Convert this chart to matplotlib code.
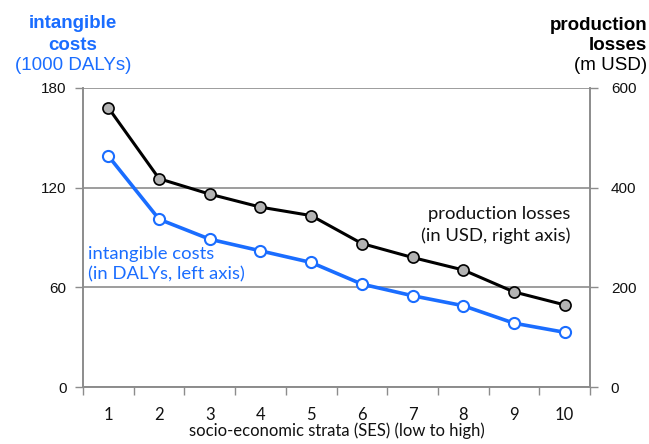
import numpy as np
import matplotlib.pyplot as plt

strata = [1, 2, 3, 4, 5, 6, 7, 8, 9, 10]
intangible_dalys = [139, 101, 89, 82, 75, 62, 55, 49, 38.5, 33]
production_musd = [560, 418, 387, 361, 344, 288, 260, 235, 191, 165]

blue = "#1a6dff"
grid_gray = "#8c8c8c"
tick_font = "Liberation Sans"
note_font = "Lato"

fig = plt.figure(figsize=(6.49, 4.44), dpi=100)
ax = fig.add_axes([0.128, 0.128, 0.781, 0.674])
ax2 = ax.twinx()

ax.set_xlim(0.5, 10.5)
ax.set_ylim(0, 180)
ax2.set_ylim(0, 600)
ax.set_yticks([0, 60, 120, 180])
ax2.set_yticks([0, 200, 400, 600])
ax.set_xticks(strata)
ax.set_xticks(np.arange(0.5, 11, 1), minor=True)
ax.tick_params(axis="x", which="major", length=0, pad=14)
ax.tick_params(axis="x", which="minor", length=6, width=1, color=grid_gray)
ax.tick_params(axis="y", length=6, width=1, color=grid_gray, pad=6)
ax2.tick_params(axis="y", length=6, width=1, color=grid_gray, pad=9)

for a in (ax, ax2):
    for lbl in a.get_yticklabels():
        lbl.set_fontfamily(tick_font)
        lbl.set_fontsize(11)
        lbl.set_color("#111111")
    a.spines["top"].set_visible(False)
    for s in ("left", "right", "bottom"):
        a.spines[s].set_color(grid_gray)
        a.spines[s].set_linewidth(1.2)
for lbl in ax.get_xticklabels():
    lbl.set_fontfamily(note_font)
    lbl.set_fontsize(12)
    lbl.set_color("#111111")

ax.grid(axis="y", color=grid_gray, linewidth=1.2)
ax.set_axisbelow(True)

# production losses (right axis)
ax2.plot(strata, production_musd, color="black", linewidth=2.2, marker="o",
         markersize=8, markerfacecolor="#b3b3b3", markeredgecolor="black",
         markeredgewidth=1.2, zorder=3)
# intangible costs (left axis), drawn on ax2 scale so it sits above
ax2.plot(strata, np.array(intangible_dalys) * 600 / 180, color=blue, linewidth=2.6,
         marker="o", markersize=8, markerfacecolor="white", markeredgecolor=blue,
         markeredgewidth=1.5, zorder=4)

ax.set_xlabel("socio-economic strata (SES) (low to high)", fontfamily=note_font,
              fontsize=12, color="#111111", labelpad=0)

ax.text(0.6, 74, "intangible costs\n(in DALYs, left axis)", color=blue,
        fontfamily=note_font, fontsize=13.3, ha="left", va="center", linespacing=1.35)
ax.text(10.12, 97.5, "production losses\n(in USD, right axis)", color="#111111",
        fontfamily=note_font, fontsize=13.3, ha="right", va="center", linespacing=1.35,
        multialignment="right")

# axis titles above the plot
fig.text(0.112, 1 - 24 / 444, "intangible", color=blue, fontfamily=tick_font,
         fontsize=13.5, fontweight="bold", ha="center", va="center")
fig.text(0.112, 1 - 45 / 444, "costs", color=blue, fontfamily=tick_font,
         fontsize=13.5, fontweight="bold", ha="center", va="center")
fig.text(0.112, 1 - 66 / 444, "(1000 DALYs)", color=blue, fontfamily=tick_font,
         fontsize=13.5, ha="center", va="center")
fig.text(0.997, 1 - 25 / 444, "production", color="black", fontfamily=tick_font,
         fontsize=13.5, fontweight="bold", ha="right", va="center")
fig.text(0.997, 1 - 45 / 444, "losses", color="black", fontfamily=tick_font,
         fontsize=13.5, fontweight="bold", ha="right", va="center")
fig.text(0.997, 1 - 66 / 444, "(m USD)", color="black", fontfamily=tick_font,
         fontsize=13.5, ha="right", va="center")

fig.savefig("out.png", dpi=100)
